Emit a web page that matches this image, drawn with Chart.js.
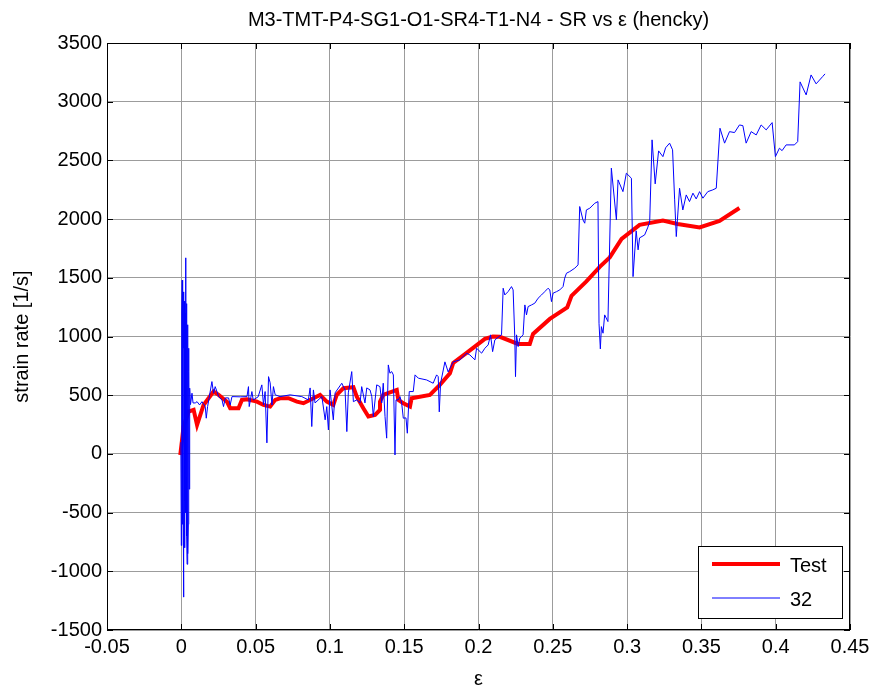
<!DOCTYPE html>
<html>
<head>
<meta charset="utf-8">
<script src="https://cdn.jsdelivr.net/npm/chart.js@4.4.1/dist/chart.umd.min.js"></script>
<style>
  html, body { margin: 0; padding: 0; background: #fff; }
  #wrap { width: 878px; height: 692px; }
</style>
</head>
<body>
<div id="wrap"><canvas id="srChart"></canvas></div>
<script>
const chartTitle = "M3-TMT-P4-SG1-O1-SR4-T1-N4 - SR vs \u03b5 (hencky)";
const xTickValues = [-0.05, 0, 0.05, 0.1, 0.15, 0.2, 0.25, 0.3, 0.35, 0.4, 0.45];
const yTickValues = [-1500, -1000, -500, 0, 500, 1000, 1500, 2000, 2500, 3000, 3500];

// "Test" curve
const testStrain = [
  -0.0007, 0.0005, 0.0015, 0.0049, 0.0083, 0.0106, 0.0150, 0.0217, 0.0251, 0.0307,
  0.0329, 0.0385, 0.0408, 0.0442, 0.0509, 0.0553, 0.0598, 0.0632, 0.0665, 0.0721,
  0.0778, 0.0822, 0.0889, 0.0934, 0.0979, 0.1023, 0.1046, 0.1091, 0.1158, 0.1181,
  0.1225, 0.1259, 0.1304, 0.1337, 0.1337, 0.1359, 0.1450, 0.1460, 0.1494, 0.1539,
  0.1550, 0.1673, 0.1740, 0.1808, 0.1830, 0.1920, 0.1964, 0.2043, 0.2097, 0.2144,
  0.2265, 0.2345, 0.2367, 0.2480, 0.2597, 0.2626, 0.2726, 0.2816, 0.2883, 0.2963,
  0.3084, 0.3241, 0.3340, 0.3488, 0.3622, 0.3756
];
const testRate = [
  -10, 119, 233, 360, 375, 247, 417, 531, 503, 445,
  389, 389, 460, 466, 445, 417, 403, 460, 474, 474,
  445, 432, 474, 503, 445, 417, 503, 560, 568, 488,
  389, 318, 332, 375, 445, 503, 545, 460, 432, 403,
  474, 503, 588, 687, 775, 860, 903, 980, 999, 997,
  937, 937, 1022, 1150, 1248, 1346, 1469, 1593, 1674, 1831,
  1951, 1987, 1959, 1929, 1985, 2095
];

// "32" curve
const srStrain = [
  -0.0003, 0.0000, 0.0003, 0.0006, 0.0008, 0.0010, 0.0012, 0.0014, 0.0016, 0.0018,
  0.0020, 0.0022, 0.0024, 0.0026, 0.0029, 0.0031, 0.0033, 0.0035, 0.0037, 0.0039,
  0.0041, 0.0043, 0.0045, 0.0047, 0.0049, 0.0051, 0.0053, 0.0055, 0.0058, 0.0062,
  0.0072, 0.0079, 0.0094, 0.0106, 0.0123, 0.0139, 0.0161, 0.0168, 0.0177, 0.0206,
  0.0217, 0.0228, 0.0240, 0.0251, 0.0274, 0.0284, 0.0296, 0.0318, 0.0329, 0.0341,
  0.0396, 0.0442, 0.0452, 0.0457, 0.0475, 0.0484, 0.0517, 0.0542, 0.0553, 0.0564,
  0.0576, 0.0587, 0.0598, 0.0610, 0.0620, 0.0632, 0.0665, 0.0732, 0.0811, 0.0855,
  0.0867, 0.0878, 0.0889, 0.0900, 0.0946, 0.0968, 0.0979, 0.0990, 0.1001, 0.1023,
  0.1035, 0.1080, 0.1102, 0.1114, 0.1124, 0.1147, 0.1158, 0.1181, 0.1203, 0.1214,
  0.1236, 0.1248, 0.1270, 0.1282, 0.1292, 0.1315, 0.1337, 0.1349, 0.1359, 0.1371,
  0.1382, 0.1393, 0.1404, 0.1416, 0.1427, 0.1438, 0.1445, 0.1460, 0.1472, 0.1483,
  0.1494, 0.1512, 0.1521, 0.1534, 0.1561, 0.1573, 0.1595, 0.1651, 0.1695, 0.1718,
  0.1729, 0.1736, 0.1745, 0.1774, 0.1796, 0.1830, 0.1875, 0.1920, 0.1942, 0.1976,
  0.1987, 0.2021, 0.2043, 0.2065, 0.2081, 0.2095, 0.2110, 0.2144, 0.2155, 0.2166,
  0.2177, 0.2199, 0.2222, 0.2233, 0.2244, 0.2249, 0.2256, 0.2267, 0.2278, 0.2300,
  0.2312, 0.2323, 0.2334, 0.2357, 0.2379, 0.2401, 0.2424, 0.2446, 0.2468, 0.2480,
  0.2491, 0.2502, 0.2525, 0.2547, 0.2569, 0.2580, 0.2592, 0.2614, 0.2648, 0.2670,
  0.2681, 0.2703, 0.2715, 0.2726, 0.2749, 0.2782, 0.2804, 0.2811, 0.2820, 0.2827,
  0.2838, 0.2849, 0.2871, 0.2894, 0.2928, 0.2939, 0.2972, 0.2995, 0.3029, 0.3040,
  0.3061, 0.3074, 0.3084, 0.3118, 0.3138, 0.3152, 0.3168, 0.3189, 0.3212, 0.3241,
  0.3259, 0.3286, 0.3306, 0.3320, 0.3331, 0.3353, 0.3375, 0.3398, 0.3420, 0.3443,
  0.3465, 0.3488, 0.3510, 0.3543, 0.3577, 0.3600, 0.3625, 0.3656, 0.3689, 0.3723,
  0.3756, 0.3779, 0.3801, 0.3835, 0.3869, 0.3902, 0.3936, 0.3976, 0.3998, 0.4025,
  0.4043, 0.4070, 0.4126, 0.4148, 0.4164, 0.4205, 0.4238, 0.4272, 0.4316, 0.4332
];
const srRate = [
  100, -780, 1200, 1480, -600, 1100, -300, 1380, -1220, 900,
  1300, -800, -400, 1200, 1670, -500, -200, 1280, -700, -940,
  1100, 1000, -850, -600, 900, 700, -300, -170, 560, 420,
  517, 434, 434, 445, 417, 445, 403, 304, 403, 616,
  517, 573, 531, 488, 460, 403, 477, 477, 417, 488,
  486, 488, 573, 403, 531, 460, 486, 588, 417, 531,
  94, 658, 605, 417, 573, 503, 488, 503, 488, 460,
  562, 233, 545, 434, 488, 290, 403, 204, 545, 290,
  520, 602, 545, 190, 520, 701, 445, 460, 434, 573,
  434, 562, 545, 488, 318, 588, 573, 434, 602, 318,
  134, 758, 687, 701, 673, -9, 460, 460, 488, 432,
  304, 307, 176, 531, 531, 673, 645, 630, 602, 673,
  658, 358, 602, 784, 698, 784, 801, 858, 843, 801,
  900, 858, 900, 928, 1014, 871, 971, 1005, 1014, 1411,
  1354, 1382, 1425, 1397, 999, 658, 1014, 914, 986, 1014,
  1269, 1184, 1255, 1269, 1284, 1326, 1354, 1382, 1411, 1397,
  1297, 1369, 1382, 1397, 1425, 1497, 1539, 1553, 1582, 1610,
  2107, 1993, 1965, 2078, 2093, 2135, 2149, 1113, 894, 1084,
  1028, 1184, 1127, 2434, 1993, 2334, 2234, 2391, 2348, 1510,
  1900, 1738, 1840, 1865, 1925, 1976, 2675, 2300, 2581, 2532,
  2607, 2647, 2590, 2164, 1851, 2263, 2078, 2206, 2149, 2221,
  2172, 2234, 2178, 2234, 2249, 2263, 2774, 2647, 2745, 2737,
  2802, 2796, 2647, 2745, 2717, 2802, 2760, 2822, 2532, 2604,
  2583, 2632, 2632, 2660, 3169, 3058, 3228, 3152, 3214, 3237
];

const toPoints = (xs, ys) => xs.map((x, i) => ({ x: x, y: ys[i] }));

Chart.defaults.font.family = '"Liberation Sans", Arial, sans-serif';
Chart.defaults.font.size = 20;
Chart.defaults.color = "#000";

// matlab-like box, inward ticks and legend inside the axes
const boxPlugin = {
  id: "box",
  afterDraw(chart) {
    const { ctx, chartArea: a, scales } = chart;
    ctx.save();
    ctx.strokeStyle = "#000";
    ctx.lineWidth = 1;
    ctx.strokeRect(a.left + 0.5, a.top + 0.5, a.right - a.left - 1, a.bottom - a.top - 1);
    ctx.beginPath();
    scales.x.ticks.forEach((t) => {
      const px = Math.round(scales.x.getPixelForValue(t.value)) + 0.5;
      ctx.moveTo(px, a.top); ctx.lineTo(px, a.top + 6);
      ctx.moveTo(px, a.bottom); ctx.lineTo(px, a.bottom - 6);
    });
    scales.y.ticks.forEach((t) => {
      const py = Math.round(scales.y.getPixelForValue(t.value)) + 0.5;
      ctx.moveTo(a.left, py); ctx.lineTo(a.left + 6, py);
      ctx.moveTo(a.right, py); ctx.lineTo(a.right - 6, py);
    });
    ctx.stroke();

    // legend
    const lw = 144, lh = 72;
    const lx = a.right - 152, ly = a.bottom - 84;
    ctx.fillStyle = "#fff";
    ctx.fillRect(lx, ly, lw, lh);
    ctx.strokeRect(lx + 0.5, ly + 0.5, lw, lh);
    const items = [chart.data.datasets[0], chart.data.datasets[1]];
    items.forEach((ds, i) => {
      const cy = ly + 18 + i * 34;
      ctx.strokeStyle = ds.borderColor;
      ctx.lineWidth = ds.borderWidth;
      ctx.beginPath();
      ctx.moveTo(lx + 14, cy);
      ctx.lineTo(lx + 82, cy);
      ctx.stroke();
      ctx.fillStyle = "#000";
      ctx.font = '20px "Liberation Sans", Arial, sans-serif';
      ctx.textBaseline = "middle";
      ctx.fillText(ds.label, lx + 92, cy + 2);
    });
    ctx.restore();
  }
};

new Chart(document.getElementById("srChart"), {
  type: "scatter",
  data: {
    datasets: [
      {
        label: "Test",
        data: toPoints(testStrain, testRate),
        showLine: true,
        borderColor: "#ff0000",
        borderWidth: 4,
        pointRadius: 0,
        tension: 0,
        order: 2,
      },
      {
        label: "32",
        data: toPoints(srStrain, srRate),
        showLine: true,
        borderColor: "#0000ff",
        borderWidth: 1,
        pointRadius: 0,
        tension: 0,
        order: 1,
      },
    ],
  },
  options: {
    responsive: true,
    maintainAspectRatio: false,
    animation: false,
    layout: {
      padding: { left: 0, right: 28, top: 0, bottom: 0 },
    },
    scales: {
      x: {
        type: "linear",
        min: -0.05,
        max: 0.45,
        afterBuildTicks: (s) => { s.ticks = xTickValues.map((v) => ({ value: v })); },
        afterFit: (s) => { s.height = 62; },
        ticks: {
          padding: 5,
          callback: (v) => String(v),
        },
        grid: {
          color: "#9c9c9c",
          drawTicks: false,
        },
        border: { display: false },
        title: {
          display: true,
          text: "\u03b5",
          font: { size: 20 },
          padding: { top: 0, bottom: 1 },
        },
      },
      y: {
        type: "linear",
        min: -1500,
        max: 3500,
        afterBuildTicks: (s) => { s.ticks = yTickValues.map((v) => ({ value: v })); },
        afterFit: (s) => { s.width = 107; },
        ticks: {
          padding: 5,
          callback: (v) => String(v),
        },
        grid: {
          color: "#9c9c9c",
          drawTicks: false,
        },
        border: { display: false },
        title: {
          display: true,
          text: "strain rate [1/s]",
          font: { size: 20 },
          padding: { top: 10, bottom: 0 },
        },
      },
    },
    plugins: {
      legend: { display: false },
      tooltip: { enabled: false },
      title: {
        display: true,
        fullSize: false,
        text: chartTitle,
        font: { size: 20, weight: "normal" },
        padding: { top: 8, bottom: 11 },
      },
    },
  },
  plugins: [boxPlugin],
});
</script>
</body>
</html>
